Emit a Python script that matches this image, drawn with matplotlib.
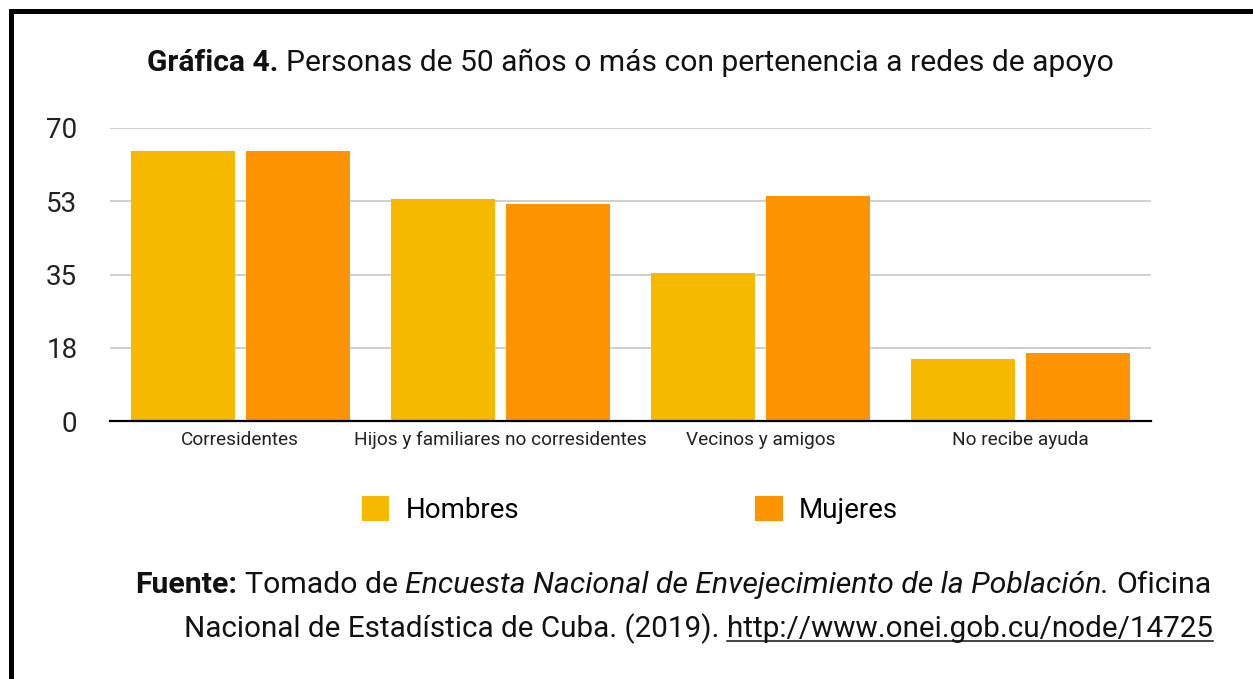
import matplotlib
matplotlib.use("Agg")
import matplotlib.pyplot as plt
import numpy as np
from matplotlib.patches import Patch, Rectangle
from matplotlib.lines import Line2D

# ---------------- data ----------------
categories = ["Corresidentes", "Hijos y familiares no corresidentes",
              "Vecinos y amigos", "No recibe ayuda"]
hombres = [64.5, 53.0, 35.4, 14.8]
mujeres = [64.5, 51.8, 53.7, 16.2]
series_names = ["Hombres", "Mujeres"]
yticks = [0, 17.5, 35, 52.5, 70]
ytick_labels = ["0", "18", "35", "53", "70"]
title_runs = [("Gráfica 4.", "bold", "normal", False),
              (" ", "normal", "normal", False),
              ("Personas de 50 años o más con pertenencia a redes de apoyo", "normal", "normal", False)]
footer1_runs = [("Fuente:", "bold", "normal", False),
                (" ", "normal", "normal", False),
                ("Tomado de", "normal", "normal", False),
                (" ", "normal", "normal", False),
                ("Encuesta Nacional de Envejecimiento de la Población.", "normal", "italic", False),
                (" ", "normal", "normal", False),
                ("Oficina", "normal", "normal", False)]
footer2_runs = [("Nacional de Estadística de Cuba. (2019).", "normal", "normal", False),
                (" ", "normal", "normal", False),
                ("http://www.onei.gob.cu/node/14725", "normal", "normal", True)]

# ---------------- style ----------------
FAMILY = ["Roboto", "DejaVu Sans"]
C_H = "#F6B900"
C_M = "#FD9400"
W, H = 1253, 679

plt.rcParams["font.family"] = FAMILY
fig = plt.figure(figsize=(W / 100, H / 100), dpi=100)
fig.patch.set_facecolor("white")

ax_l, ax_r, ax_t, ax_b = 110, 1151, 128, 421
ax = fig.add_axes([ax_l / W, 1 - ax_b / H, (ax_r - ax_l) / W, (ax_b - ax_t) / H])

x = np.arange(len(categories))
off = 0.221
bw = 0.40
ax.bar(x - off, hombres, width=bw, color=C_H, zorder=2)
ax.bar(x + off, mujeres, width=bw, color=C_M, zorder=2)
ax.set_xlim(-0.5, len(categories) - 0.5)
ax.set_ylim(0, 70)
ax.set_yticks(yticks)
ax.set_yticklabels(ytick_labels, fontsize=20, color="#222222")
ax.set_xticks(x)
ax.set_xticklabels(categories, fontsize=13.7, color="#222222")
ax.tick_params(axis="y", length=0, pad=23.5)
ax.tick_params(axis="x", length=0, pad=7)
ax.yaxis.grid(True, color="#cccccc", linewidth=1.3, zorder=0)
ax.set_axisbelow(True)
for s in ["top", "right", "left"]:
    ax.spines[s].set_visible(False)
ax.spines["bottom"].set_color("black")
ax.spines["bottom"].set_linewidth(1.6)
ax.spines["bottom"].set_zorder(3)

# legend
handles = [Patch(facecolor=C_H, edgecolor="none"), Patch(facecolor=C_M, edgecolor="none")]
fig.legend(handles, series_names, loc="center",
           bbox_to_anchor=(630 / W, 1 - 510 / H), ncol=2, frameon=False,
           fontsize=20, handlelength=0.98, handleheight=1.0,
           handletextpad=0.6, columnspacing=8.5, borderpad=0, borderaxespad=0)

renderer = fig.canvas.get_renderer()


def measure(s, size, weight, style):
    t = fig.text(0, 0, s, fontsize=size, fontweight=weight, fontstyle=style, family=FAMILY)
    w = t.get_window_extent(renderer).width
    t.remove()
    return w


def run_width(s, size, weight, style):
    if s.strip() == "":
        return (measure("a a", size, weight, style) - measure("aa", size, weight, style)) * len(s)
    return measure(s, size, weight, style)


def line_width(runs, size):
    return sum(run_width(s, size, wt, st) for s, wt, st, _ in runs)


def draw_runs(runs, size, x_px, base_px, ha):
    total = line_width(runs, size)
    if ha == "center":
        cur = x_px - total / 2
    elif ha == "right":
        cur = x_px - total
    else:
        cur = x_px
    for s, wt, st, ul in runs:
        w = run_width(s, size, wt, st)
        if s.strip() != "":
            fig.text(cur / W, 1 - base_px / H, s, fontsize=size, fontweight=wt,
                     fontstyle=st, family=FAMILY, ha="left", va="baseline", color="#111111")
            if ul:
                yy = 1 - (base_px + 3.5) / H
                fig.add_artist(Line2D([cur / W, (cur + w) / W], [yy, yy],
                                      transform=fig.transFigure, color="#111111", linewidth=1.1))
        cur += w


def fit_size(runs, nominal, target):
    return nominal * target / line_width(runs, nominal)


ts = fit_size(title_runs, 20, 963)
draw_runs(title_runs, ts, (ax_l + ax_r) / 2, 71, "center")

fs1 = fit_size(footer1_runs, 20, 1078)
fs2 = fit_size(footer2_runs, 20, 1028)
draw_runs(footer1_runs, fs1, 1212, 593, "right")
draw_runs(footer2_runs, fs2, 1213, 637, "right")

# frame (top and left black border)
fig.add_artist(Rectangle((9 / W, 1 - 14 / H), (W - 9) / W, 5 / H,
                         transform=fig.transFigure, color="black", linewidth=0))
fig.add_artist(Rectangle((9 / W, 0), 5 / W, 1 - 9 / H,
                         transform=fig.transFigure, color="black", linewidth=0))

fig.savefig("out.png", dpi=100, facecolor="white")
